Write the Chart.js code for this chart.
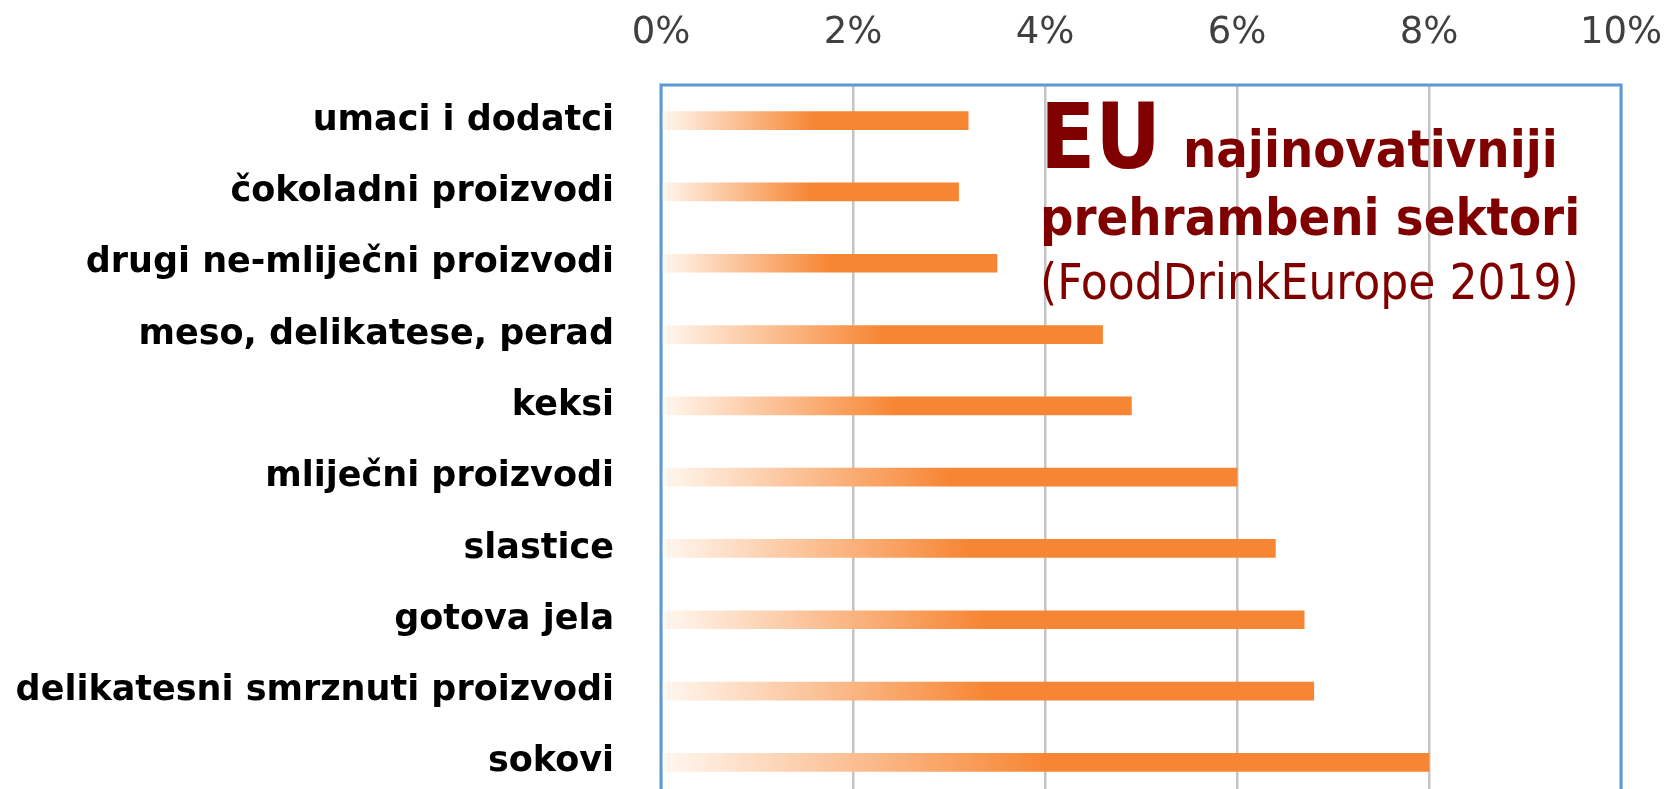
<!DOCTYPE html>
<html lang="hr">
<head>
    <meta charset="UTF-8">
    <title>EU najinovativniji prehrambeni sektori</title>
    <script src="https://cdn.jsdelivr.net/npm/chart.js"></script>
    <style>
        html, body {
            margin: 0;
            padding: 0;
            background: white;
            overflow: hidden;
        }
        canvas {
            display: block;
        }
    </style>
</head>
<body>
    <canvas id="sektori" width="1667" height="800"></canvas>

    <script>
        // sektori i udio inovacija (%)
        let sektori = [
            "umaci i dodatci",
            "čokoladni proizvodi",
            "drugi ne-mliječni proizvodi",
            "meso, delikatese, perad",
            "keksi",
            "mliječni proizvodi",
            "slastice",
            "gotova jela",
            "delikatesni smrznuti proizvodi",
            "sokovi"
        ];
        let udjeli = [3.2, 3.1, 3.5, 4.6, 4.9, 6.0, 6.4, 6.7, 6.8, 8.0];
        let osMin = 0;
        let osMax = 10;
        let osKorak = 2;

        let naslov = ["EU", "najinovativniji", "prehrambeni sektori", "(FoodDrinkEurope 2019)"];

        let narancasta = '#f78634';

        // okvir oko podrucja grafikona (plavi rub)
        let okvirPlugin = {
            id: 'okvir',
            afterDraw(chart) {
                let c = chart.ctx;
                let a = chart.chartArea;
                c.save();
                c.strokeStyle = '#5b9bd5';
                c.lineWidth = 3;
                c.strokeRect(a.left, a.top, a.right - a.left, a.bottom - a.top);
                c.restore();
            }
        };

        // natpis u gornjem desnom kutu
        let natpisPlugin = {
            id: 'natpis',
            afterDatasetsDraw(chart) {
                let c = chart.ctx;
                let x = 1040;
                c.save();
                c.fillStyle = '#800000';
                c.textBaseline = 'alphabetic';
                c.textAlign = 'left';
                c.font = 'bold 90px "DejaVu Sans Condensed", "DejaVu Sans", sans-serif';
                c.fillText(naslov[0], x, 168);
                c.font = 'bold 52px "DejaVu Sans Condensed", "DejaVu Sans", sans-serif';
                c.fillText(naslov[1], 1183, 167);
                c.fillText(naslov[2], x, 235);
                c.font = '49px "DejaVu Sans Condensed", "DejaVu Sans", sans-serif';
                c.fillText(naslov[3], x, 299);
                c.restore();
            }
        };

        // prijelaz od bijele do narancaste, posebno za svaku traku
        function gradijent(context) {
            let chart = context.chart;
            if (!chart.chartArea) return narancasta;
            let x = chart.scales.x;
            let x0 = x.getPixelForValue(0);
            let x1 = x.getPixelForValue(context.raw);
            let g = chart.ctx.createLinearGradient(x0, 0, x1, 0);
            g.addColorStop(0, '#fff8f1');
            g.addColorStop(0.5, narancasta);
            g.addColorStop(1, narancasta);
            return g;
        }

        let ctx = document.getElementById('sektori').getContext('2d');
        let chart = new Chart(ctx, {
            type: 'bar',
            data: {
                labels: sektori,
                datasets: [{
                    data: udjeli,
                    backgroundColor: gradijent,
                    barThickness: 18,
                    borderWidth: 0
                }]
            },
            options: {
                indexAxis: 'y',
                responsive: false,
                animation: false,
                devicePixelRatio: 1,
                layout: { padding: { left: 0, right: 46, top: 0, bottom: 2 } },
                plugins: {
                    legend: { display: false },
                    tooltip: { enabled: false }
                },
                scales: {
                    x: {
                        position: 'top',
                        min: osMin,
                        max: osMax,
                        ticks: {
                            stepSize: osKorak,
                            padding: 29,
                            color: '#404040',
                            font: { family: '"DejaVu Sans"', size: 37 },
                            callback: v => v + '%'
                        },
                        grid: {
                            color: '#c4c4c4',
                            lineWidth: 2.5,
                            drawTicks: false
                        },
                        border: { display: false },
                        afterFit(scale) {
                            scale.height = 85;
                            scale.paddingLeft = 0;
                            scale.paddingRight = 0;
                        }
                    },
                    y: {
                        ticks: {
                            padding: 47,
                            color: '#000000',
                            font: { family: '"DejaVu Sans"', size: 35, weight: 'bold' }
                        },
                        grid: { display: false, drawTicks: false },
                        border: { display: false },
                        afterFit(scale) {
                            scale.width = 661;
                            scale.paddingTop = 0;
                            scale.paddingBottom = 0;
                        }
                    }
                }
            },
            plugins: [okvirPlugin, natpisPlugin]
        });
    </script>
</body>
</html>
